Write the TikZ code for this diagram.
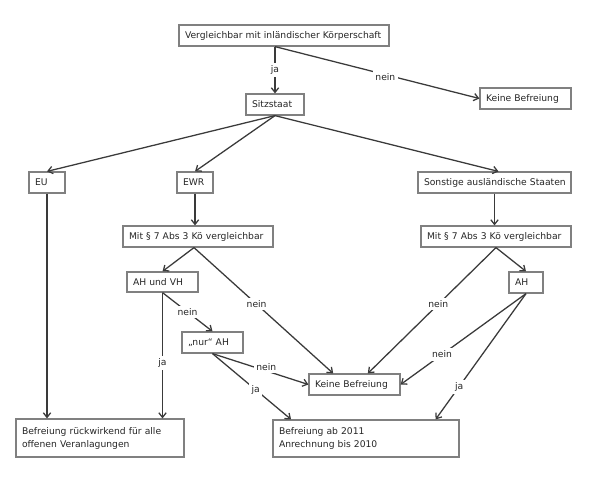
\documentclass[tikz,border=0pt]{standalone}
\usepackage{fontspec}
\setmainfont{DejaVu Sans}
\usetikzlibrary{arrows.meta}
\definecolor{txt}{HTML}{262626}
\definecolor{bord}{HTML}{808080}
\definecolor{ln}{HTML}{3A3A3A}
\tikzset{
  boxst/.style={draw=bord, line width=0.9pt, fill=white, inner xsep=4.5pt, inner ysep=0pt,
    align=left, text=txt, font=\fontsize{6.9}{9.75}\selectfont},
  conn/.style={draw=ln, line width=0.95pt, -{Straight Barb[length=3.5pt,width=5.5pt]}},
  lbl/.style={fill=white, text=txt, inner sep=2pt, font=\fontsize{6.9}{8}\selectfont},
}
\newcommand\mkbox[6]{%
  \pgfmathsetmacro\bxw{(#4-#2)*0.75-9}%
  \pgfmathsetmacro\bxh{(#5-#3)*0.75}%
  \node[boxst, text width=\bxw pt, minimum height=\bxh pt] (#1) at ({(#2+#4)/2},{(#3+#5)/2}) {#6};}
\begin{document}
\begin{tikzpicture}[x=0.75pt,y=-0.75pt]
\useasboundingbox (0,0) rectangle (595,487);
\fill[white] (0,0) rectangle (595,487);
% boxes
\mkbox{top}{179}{25}{389}{46}{\mbox{Vergleichbar mit inländischer Körperschaft}}
\mkbox{keinea}{480}{88}{571}{109}{\mbox{Keine Befreiung}}
\mkbox{sitz}{246}{94}{304}{115}{\mbox{Sitzstaat}}
\mkbox{eu}{29}{172}{65}{193}{\mbox{EU}}
\mkbox{ewr}{177}{172}{213}{193}{\mbox{EWR}}
\mkbox{sonst}{418}{172}{571}{193}{\mbox{Sonstige ausländische Staaten}}
\mkbox{mitl}{123}{226}{273}{247}{\mbox{Mit § 7 Abs 3 Kö vergleichbar}}
\mkbox{mitr}{421}{226}{571}{247}{\mbox{Mit § 7 Abs 3 Kö vergleichbar}}
\mkbox{ahvh}{127}{272}{198}{292}{\mbox{AH und VH}}
\mkbox{ah}{509}{272}{543}{293}{\mbox{AH}}
\mkbox{nur}{182}{332}{243}{353}{\mbox{„nur“ AH}}
\mkbox{keineb}{309}{374}{400}{395}{\mbox{Keine Befreiung}}
\mkbox{befl}{16}{419}{184}{457}{Befreiung rückwirkend für alle\\offenen Veranlagungen}
\mkbox{befr}{273}{420}{459}{457}{Befreiung ab 2011\\Anrechnung bis 2010}
% connectors
\draw[conn] (sitz.north |- top.south) -- node[lbl, pos=0.5] {ja} (sitz.north);
\draw[conn] (sitz.north |- top.south) -- node[lbl, pos=0.54, yshift=-1.5pt] {nein} (keinea.west);
\draw[conn] (sitz.south) -- (eu.north);
\draw[conn] (sitz.south) -- (ewr.north);
\draw[conn] (sitz.south) -- ([xshift=3pt]sonst.north);
\draw[conn] (eu.south) -- (eu.south |- befl.north);
\draw[conn] (ewr.south) -- (ewr.south |- mitl.north);
\draw[conn] (sonst.south) -- (sonst.south |- mitr.north);
\draw[conn] ([xshift=-3pt]mitl.south) -- (ahvh.north);
\draw[conn] ([xshift=-3pt]mitl.south) -- node[lbl, pos=0.45] {nein} ([xshift=-16pt]keineb.north);
\draw[conn] (mitr.south) -- (ah.north);
\draw[conn] (mitr.south) -- node[lbl, pos=0.45] {nein} ([xshift=10pt]keineb.north);
\draw[conn] (ahvh.south) -- node[lbl, pos=0.5] {nein} (nur.north);
\draw[conn] (ahvh.south) -- node[lbl, pos=0.56] {ja} (ahvh.south |- befl.north);
\draw[conn] (nur.south) -- node[lbl, pos=0.56, yshift=3pt] {nein} (keineb.west);
\draw[conn] (nur.south) -- node[lbl, pos=0.55] {ja} ([xshift=14pt]befr.north west);
\draw[conn] (ah.south) -- node[lbl, pos=0.67] {nein} (keineb.east);
\draw[conn] (ah.south) -- node[lbl, pos=0.74] {ja} ([xshift=-18pt]befr.north east);
\end{tikzpicture}
\end{document}
